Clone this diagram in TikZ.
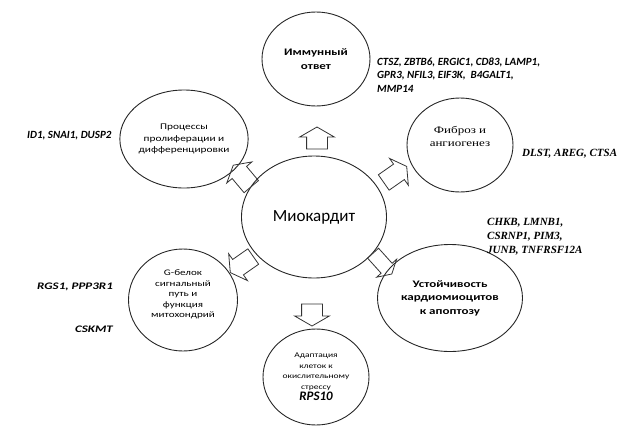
\documentclass[tikz,border=0pt]{standalone}
\usepackage{fontspec}
\setmainfont{Carlito}
\newfontfamily\tms{Liberation Serif}
\newfontfamily\wsans[FakeStretch=1.3]{Carlito}
\newfontfamily\wserif[FakeStretch=1.3]{Liberation Serif}
\usetikzlibrary{shapes.geometric,shapes.arrows}
\tikzset{
  bubble/.style={ellipse,draw=black!85,line width=0.9pt,inner sep=0pt,align=center},
  blockarrow/.style={single arrow,draw=black!80,line width=0.8pt,inner xsep=0pt,inner ysep=10pt,
    minimum height=22pt,single arrow head extend=7pt,single arrow tip angle=120,
    single arrow head indent=0pt},
  smallarrow/.style={blockarrow,inner ysep=9pt,single arrow head extend=7pt,minimum height=28pt},
  genes/.style={font=\fontsize{11}{13.5}\selectfont\bfseries\itshape,align=left,inner sep=0pt},
  tgenes/.style={font=\tms\fontsize{11}{14}\selectfont\bfseries\itshape,align=left,inner sep=0pt}
}
\begin{document}
\begin{tikzpicture}[x=1pt,y=-1pt]
\useasboundingbox (0,0) rectangle (622,426);
\node[bubble,minimum width=145pt,minimum height=122pt,font=\fontsize{17}{20}\selectfont] (main) at (314,217) {Миокардит};
\node[bubble,minimum width=108pt,minimum height=94pt,font=\wsans\fontsize{10}{14}\selectfont\bfseries] (imm) at (316,59) {Иммунный\\ответ};
\node[bubble,minimum width=106pt,minimum height=94pt,font=\wserif\fontsize{10}{13}\selectfont] (fib) at (460,145) {Фиброз и\\ангиогенез\\[4pt]};
\node[bubble,minimum width=112pt,minimum height=98pt,font=\wsans\fontsize{8.7}{11.7}\selectfont] (pro) at (184,139) {Процессы\\пролиферации и\\дифференцировки};
\node[bubble,minimum width=109pt,minimum height=102pt,font=\wsans\fontsize{8.5}{10.5}\selectfont] (gb) at (183,300) {G-белок\\сигнальный\\путь и\\функция\\митохондрий\\[2pt]};
\node[bubble,minimum width=145pt,minimum height=107pt,font=\wsans\fontsize{10}{13.5}\selectfont\bfseries] (ust) at (450,298) {Устойчивость\\кардиомиоцитов\\к апоптозу};
\node[bubble,minimum width=106pt,minimum height=96pt,font=\wsans\fontsize{7.3}{10.5}\selectfont] (ad) at (316,377) {Адаптация\\клеток к\\окислительному\\стрессу\\[1pt]{\rmfamily\fontsize{13}{15}\selectfont\bfseries\itshape RPS10}};
% arrows
\node[blockarrow,rotate=90] (a1) at (317,141) {};
\node[smallarrow,rotate=35] (a2) at (393,176) {};
\node[smallarrow,rotate=130] (a3) at (244,178) {};
\node[smallarrow,rotate=215] (a4) at (244,263) {};
\node[smallarrow,rotate=-48,inner ysep=7pt,single arrow head extend=6pt] (a5) at (381,262) {};
\node[blockarrow,rotate=-90] (a6) at (312,312) {};
% gene labels
\node[genes,anchor=west] (g1) at (377,75) {CTSZ, ZBTB6, ERGIC1, CD83, LAMP1,\\GPR3, NFIL3, EIF3K, \ B4GALT1,\\MMP14};
\node[genes,anchor=west] (g2) at (27,136) {ID1, SNAI1, DUSP2};
\node[tgenes,anchor=west] (g3) at (522,154) {DLST, AREG, CTSA};
\node[tgenes,anchor=west] (g4) at (487,237) {CHKB, LMNB1,\\CSRNP1, PIM3,\\JUNB, TNFRSF12A};
\node[genes,anchor=west,font=\wsans\fontsize{10}{13}\selectfont\bfseries\itshape] (g5) at (37,287) {RGS1, PPP3R1};
\node[genes,anchor=west,font=\wsans\fontsize{10}{13}\selectfont\bfseries\itshape] (g6) at (75,329) {CSKMT};
\end{tikzpicture}
\end{document}
